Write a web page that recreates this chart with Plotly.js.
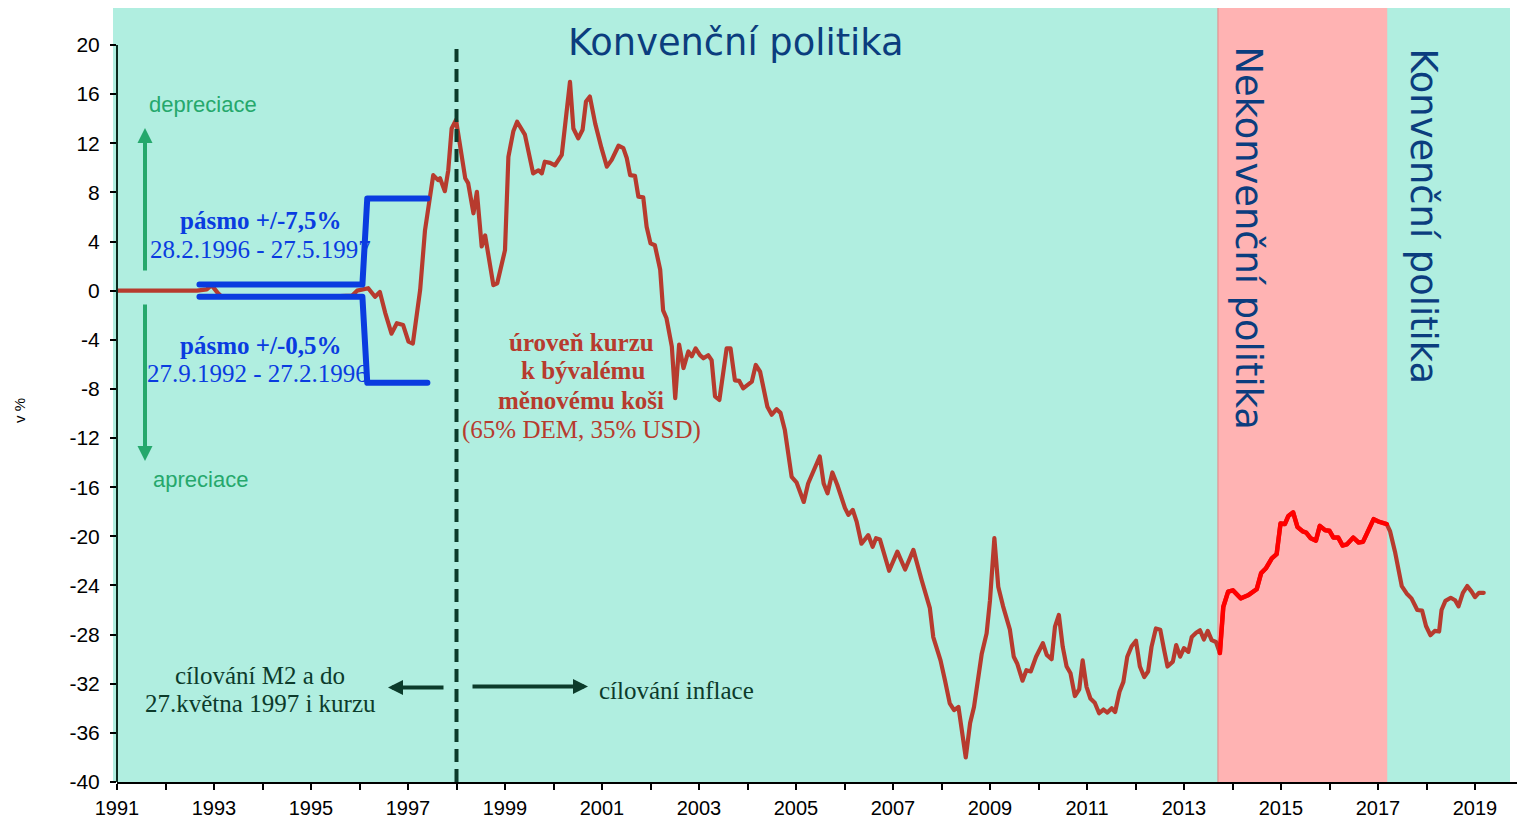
<!DOCTYPE html>
<html>
<head>
<meta charset="utf-8">
<script src="https://cdn.plot.ly/plotly-3.0.1.min.js"></script>
<style>
html,body{margin:0;padding:0;background:#fff;}
#chart{width:1517px;height:822px;}
path.js-line{stroke-linejoin:round !important;stroke-linecap:round !important;}
</style>
</head>
<body>
<div id="chart"></div>
<script>
// ---- data (decimal years, % deviation from former basket level) ----
const dates = [
1991.00,1992.65,1992.85,1992.95,1993.08,1993.16,1993.60,1994.10,1994.60,1995.10,1995.60,1995.85,1995.95,
1996.18,1996.32,1996.42,1996.53,1996.66,1996.77,1996.90,1997.01,1997.10,1997.25,1997.35,1997.52,1997.62,
1997.66,1997.76,1997.83,1997.90,1997.99,1998.07,1998.18,1998.24,1998.35,1998.42,1998.52,1998.59,1998.76,
1998.84,1999.00,1999.07,1999.17,1999.25,1999.41,1999.58,1999.69,1999.76,1999.82,1999.93,2000.03,2000.17,
2000.34,2000.41,2000.51,2000.60,2000.67,2000.75,2000.86,2000.99,2001.10,2001.20,2001.34,2001.44,2001.51,
2001.58,2001.68,2001.75,2001.85,2001.92,2002.00,2002.09,2002.20,2002.26,2002.33,2002.44,2002.51,2002.59,
2002.68,2002.78,2002.85,2002.93,2003.02,2003.09,2003.19,2003.26,2003.33,2003.42,2003.57,2003.65,2003.74,
2003.83,2003.91,2004.09,2004.17,2004.26,2004.41,2004.50,2004.60,2004.68,2004.77,2004.91,2005.01,2005.16,
2005.25,2005.49,2005.57,2005.65,2005.75,2005.85,2006.01,2006.08,2006.17,2006.25,2006.35,2006.49,2006.58,
2006.65,2006.73,2006.92,2007.09,2007.25,2007.42,2007.59,2007.76,2007.83,2007.98,2008.07,2008.17,2008.26,
2008.35,2008.50,2008.59,2008.67,2008.83,2008.93,2009.00,2009.09,2009.17,2009.27,2009.41,2009.49,2009.56,
2009.67,2009.75,2009.84,2009.95,2010.09,2010.17,2010.27,2010.34,2010.42,2010.50,2010.58,2010.66,2010.75,
2010.84,2010.91,2010.99,2011.07,2011.16,2011.25,2011.34,2011.42,2011.51,2011.58,2011.67,2011.75,2011.83,
2011.92,2012.01,2012.09,2012.18,2012.26,2012.33,2012.42,2012.51,2012.59,2012.66,2012.77,2012.84,2012.92,
2013.00,2013.09,2013.16,2013.25,2013.33,2013.41,2013.49,2013.57,2013.66,2013.74,2013.81,2013.91,2014.01,
2014.17,2014.32,2014.50,2014.59,2014.69,2014.81,2014.91,2014.99,2015.08,2015.15,2015.25,2015.34,2015.45,
2015.52,2015.61,2015.72,2015.80,2015.91,2016.00,2016.08,2016.18,2016.27,2016.36,2016.49,2016.60,2016.69,
2016.78,2016.91,2017.01,2017.12,2017.18,2017.25,2017.35,2017.49,2017.59,2017.69,2017.81,2017.91,2017.99,
2018.08,2018.17,2018.26,2018.31,2018.39,2018.50,2018.59,2018.66,2018.75,2018.84,2018.93,2019.00,2019.08,
2019.18
];
const deviation = [
0,0,0.1,0.45,-0.2,-0.5,-0.45,-0.5,-0.45,-0.5,-0.45,-0.4,0.0,
0.2,-0.5,-0.1,-1.8,-3.5,-2.65,-2.8,-4.15,-4.3,0.05,4.9,9.4,9.0,
9.15,8.1,9.8,13.2,13.9,11.7,9.15,8.75,6.3,8.05,3.6,4.5,0.45,
0.6,3.3,10.9,12.95,13.75,12.7,9.55,9.8,9.55,10.5,10.4,10.2,11.05,
17.0,13.2,12.4,13.1,15.4,15.8,13.6,11.6,10.1,10.65,11.8,11.6,10.8,
9.4,9.35,7.65,7.6,5.2,3.85,3.7,1.7,-1.6,-2.25,-4.55,-8.75,-4.4,
-6.3,-4.95,-5.35,-4.7,-5.25,-5.5,-5.25,-5.65,-8.6,-8.9,-4.7,-4.7,-7.3,
-7.35,-7.95,-7.4,-6.05,-6.6,-9.45,-10.1,-9.65,-9.95,-11.35,-15.15,-15.6,-17.2,
-15.7,-13.5,-15.7,-16.5,-14.8,-15.8,-17.7,-18.25,-17.85,-18.8,-20.6,-19.9,-20.85,
-20.15,-20.25,-22.8,-21.25,-22.7,-21.1,-23.55,-25.85,-28.2,-30.1,-31.7,-33.6,-34.15,
-33.9,-38.0,-35.2,-33.9,-29.55,-27.9,-25.2,-20.15,-24.1,-25.7,-27.6,-29.8,-30.35,
-31.75,-30.9,-31.0,-29.8,-28.7,-29.65,-30.0,-27.35,-26.4,-29.0,-30.6,-31.15,-33.0,
-32.45,-30.1,-32.25,-33.2,-33.55,-34.4,-34.1,-34.35,-34.0,-34.3,-32.65,-31.85,-29.8,
-28.95,-28.5,-30.6,-31.45,-31.0,-29.0,-27.5,-27.6,-29.25,-30.6,-30.2,-28.85,-29.8,
-29.1,-29.4,-28.2,-27.85,-27.65,-28.4,-27.7,-28.45,-28.6,-29.5,-25.75,-24.5,-24.4,
-25.05,-24.8,-24.3,-23.0,-22.6,-21.8,-21.45,-18.95,-19.0,-18.35,-18.05,-19.25,-19.6,
-19.7,-20.15,-20.35,-19.15,-19.5,-19.55,-20.1,-20.1,-20.75,-20.65,-20.1,-20.5,-20.45,
-19.7,-18.6,-18.8,-18.9,-19.0,-19.6,-21.25,-24.05,-24.65,-25.05,-26.0,-26.05,-27.3,
-28.05,-27.7,-27.75,-26.0,-25.25,-25.0,-25.2,-25.7,-24.6,-24.05,-24.5,-24.95,-24.6,
-24.6
];
// fluctuation bands (27.9.1992 - 27.2.1996: +/-0.5 %, 28.2.1996 - 27.5.1997: +/-7.5 %)
const bandDates = [1992.70, 1996.06, 1996.16, 1997.40];
const bandUpper = [0.5, 0.5, 7.5, 7.5];
const bandLower = [-0.5, -0.5, -7.5, -7.5];
// regime boundaries
const inflationTargetingStart = 1998.0;
const unconventionalPeriod = [2013.70, 2017.19];
const commitmentPeriod = [2013.74, 2017.18];
// axes
const xTickVals = [1991,1992,1993,1994,1995,1996,1997,1998,1999,2000,2001,2002,2003,2004,2005,2006,2007,2008,2009,2010,2011,2012,2013,2014,2015,2016,2017,2018,2019];
const xTickText = ['1991','','1993','','1995','','1997','','1999','','2001','','2003','','2005','','2007','','2009','','2011','','2013','','2015','','2017','','2019'];
const yTickVals = [-40,-36,-32,-28,-24,-20,-16,-12,-8,-4,0,4,8,12,16,20];
const yTickText = ['-40','-36','-32','-28','-24','-20','-16','-12','-8','-4','0','4','8','12','16','20'];

// ---- derived red (commitment) segment ----
const redX = [], redY = [];
dates.forEach((d, i) => { if (d >= commitmentPeriod[0] && d <= commitmentPeriod[1]) { redX.push(d); redY.push(deviation[i]); } });

const BROWN = '#b73b2e', RED = '#ff0000', BLUE = '#0a3ce0';
const TEAL = '#b0eee0', PINK = '#ffb3b3';
const DKGREEN = '#0c3b2b', GREEN = '#25a86c', NAVY = '#0b3d7e';
const SERIF = 'Liberation Serif, Times New Roman, serif';
const SANS = 'Liberation Sans, Arial, sans-serif';

// pixel -> paper helpers for text placement
const L = 117, R = 1517, T = 8, B = 782;
const PX = p => (p - L) / (R - L);
const PY = p => (B - p) / (B - T);

const traces = [
  {x: dates, y: deviation, type: 'scatter', mode: 'lines', line: {color: BROWN, width: 4.2}, hoverinfo: 'skip'},
  {x: redX, y: redY, type: 'scatter', mode: 'lines', line: {color: RED, width: 4.5}, hoverinfo: 'skip'},
  {x: bandDates, y: bandUpper, type: 'scatter', mode: 'lines', line: {color: BLUE, width: 6}, hoverinfo: 'skip'},
  {x: bandDates, y: bandLower, type: 'scatter', mode: 'lines', line: {color: BLUE, width: 6}, hoverinfo: 'skip'}
];

function txt(text, px, py, font, extra) {
  return Object.assign({text: text, xref: 'paper', yref: 'paper', x: PX(px), y: PY(py),
    xanchor: 'center', yanchor: 'middle', showarrow: false, font: font}, extra || {});
}
function arrow(tipX, tipY, tailX, tailY, color) {
  return {text: '', xref: 'paper', yref: 'paper', x: PX(tipX), y: PY(tipY),
    ax: tailX - tipX, ay: tailY - tipY, showarrow: true, arrowhead: 2, arrowsize: 0.75,
    arrowwidth: 4, arrowcolor: color, standoff: 0, startstandoff: 0};
}

const blueBold = {family: SERIF, size: 25, color: BLUE, weight: 'bold'};
const blueReg = {family: SERIF, size: 25, color: BLUE};
const redBold = {family: SERIF, size: 25, color: BROWN, weight: 'bold'};
const redReg = {family: SERIF, size: 25, color: BROWN};
const dgReg = {family: SERIF, size: 25, color: DKGREEN};
const navy = {family: 'DejaVu Sans, Verdana, sans-serif', size: 36.8, color: NAVY};
const green = {family: SANS, size: 22, color: GREEN};

const annotations = [
  txt('Konvenční politika', 736, 42, navy),
  txt('Nekonvenční politika', 1248, 237.5, navy, {textangle: 90}),
  txt('Konvenční politika', 1423, 216.5, navy, {textangle: 90}),
  txt('depreciace', 203, 104, green),
  txt('apreciace', 200, 479, green),
  arrow(145, 128, 145, 272, GREEN),
  arrow(145, 461, 145, 303, GREEN),
  txt('<b>pásmo +/-7,5%</b>', 260, 220, blueBold),
  txt('28.2.1996 - 27.5.1997', 260, 249, blueReg),
  txt('<b>pásmo +/-0,5%</b>', 260, 345, blueBold),
  txt('27.9.1992 - 27.2.1996', 257, 374, blueReg),
  txt('<b>úroveň kurzu</b>', 581, 342, redBold),
  txt('<b>k bývalému</b>', 583, 371, redBold),
  txt('<b>měnovému koši</b>', 581, 400, redBold),
  txt('(65% DEM, 35% USD)', 581, 430, redReg),
  txt('cílování M2 a do', 260, 675, dgReg),
  txt('27.května 1997 i kurzu', 260, 703, dgReg),
  txt('cílování inflace', 597, 690, dgReg, {xanchor: 'left'}),
  arrow(388, 687.5, 445, 687.5, DKGREEN),
  arrow(588, 686.5, 471, 686.5, DKGREEN),
  {text: 'v %', xref: 'paper', yref: 'paper', x: PX(19), y: PY(410), textangle: -90,
   showarrow: false, xanchor: 'center', yanchor: 'middle', font: {family: SANS, size: 15, color: '#000'}}
];

const shapes = [
  {type: 'rect', layer: 'below', xref: 'paper', yref: 'paper', x0: PX(113), x1: PX(1510), y0: 0, y1: 1,
   fillcolor: TEAL, line: {width: 0}},
  {type: 'rect', layer: 'below', xref: 'x', yref: 'paper', x0: unconventionalPeriod[0], x1: unconventionalPeriod[1], y0: 0, y1: 1,
   fillcolor: PINK, line: {width: 0}},
  {type: 'line', layer: 'below', xref: 'x', yref: 'paper', x0: unconventionalPeriod[0], x1: unconventionalPeriod[0], y0: 0, y1: 1,
   line: {color: '#e08a8a', width: 1}},
  {type: 'line', layer: 'above', xref: 'x', yref: 'y', x0: inflationTargetingStart, x1: inflationTargetingStart, y0: -40, y1: 20,
   line: {color: DKGREEN, width: 4, dash: '13px,7px'}},
  {type: 'line', layer: 'above', xref: 'paper', yref: 'y', x0: 0, x1: 0, y0: -40, y1: 20,
   line: {color: '#0b2a1e', width: 2}}
];

const layout = {
  width: 1517, height: 822,
  margin: {l: L, r: 1517 - R, t: T, b: 822 - B, pad: 0},
  paper_bgcolor: '#ffffff', plot_bgcolor: 'rgba(0,0,0,0)',
  showlegend: false,
  xaxis: {range: [1991, 1991 + (R - L) / 48.5], tickmode: 'array', tickvals: xTickVals, ticktext: xTickText,
    ticks: 'outside', ticklen: 6, tickwidth: 2, tickcolor: '#000', showline: true, linecolor: '#000', linewidth: 2,
    showgrid: false, zeroline: false, fixedrange: true, ticklabelstandoff: 1,
    tickfont: {family: SANS, size: 20, color: '#000'}},
  yaxis: {range: [-40, 20 + (45 - T) / ((B - 45) / 60)], tickmode: 'array', tickvals: yTickVals, ticktext: yTickText,
    ticks: 'outside', ticklen: 6, tickwidth: 2, tickcolor: '#000', showline: false,
    showgrid: false, zeroline: false, fixedrange: true, ticklabelstandoff: 6,
    tickfont: {family: SANS, size: 21, color: '#000'}},
  shapes: shapes,
  annotations: annotations
};

Plotly.newPlot('chart', traces, layout, {displayModeBar: false, staticPlot: true});
</script>
</body>
</html>
